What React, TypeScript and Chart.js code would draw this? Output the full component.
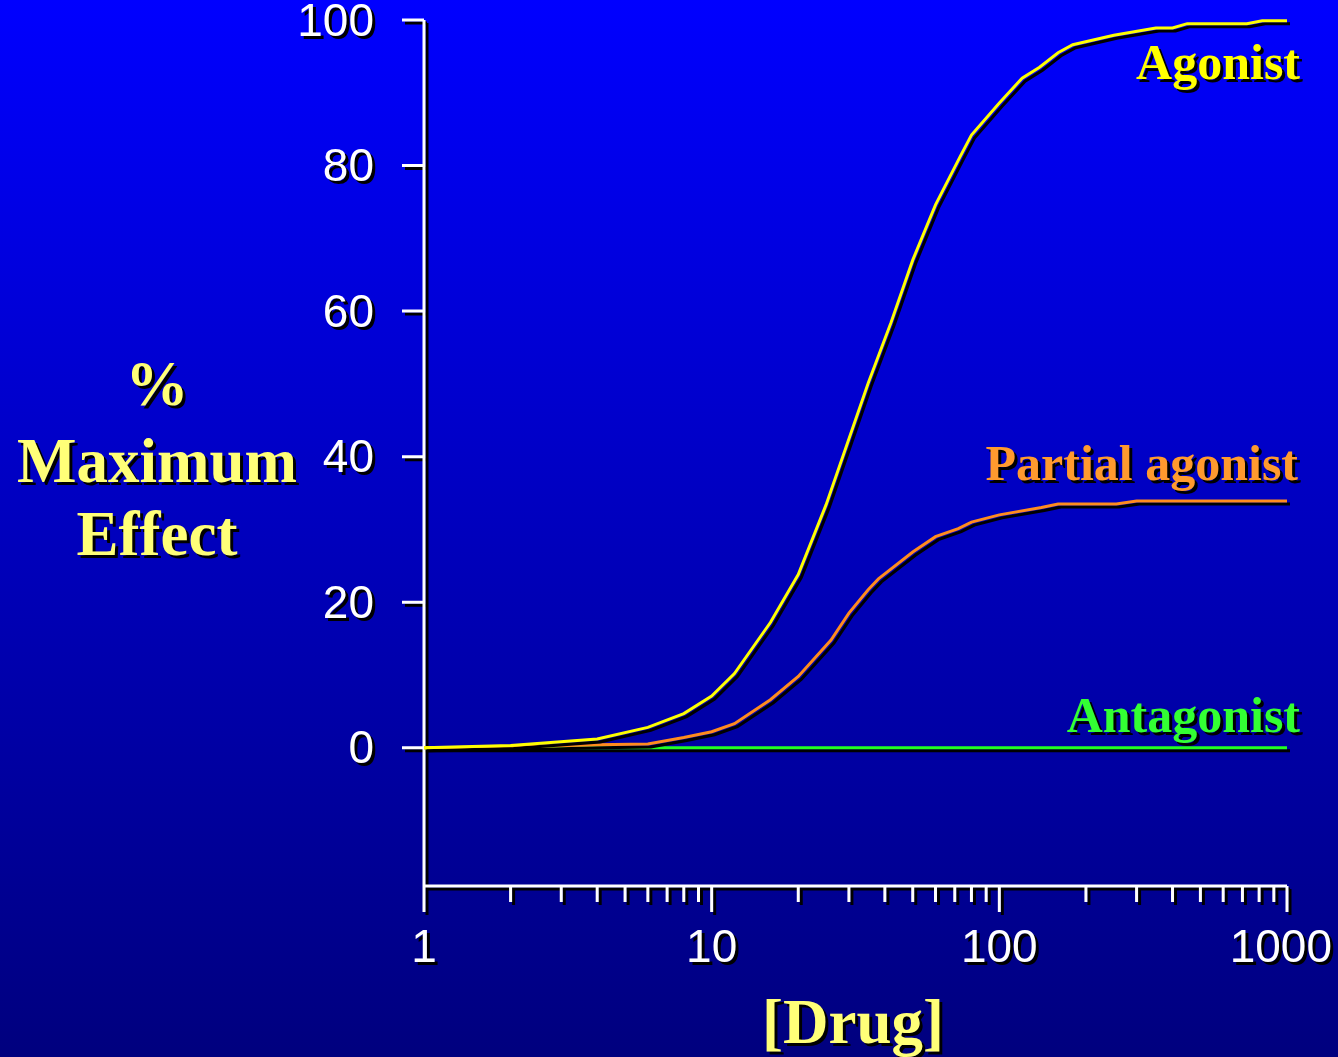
import React, { useEffect, useRef } from "react";
import { Chart, registerables } from "chart.js";

Chart.register(...registerables);

// ---- data ----
const agonistX = [1, 2, 4, 6, 8, 10, 12, 16, 20, 25, 35, 42, 50, 60, 73, 80, 100, 120, 138, 160, 180, 250, 350, 400, 450, 725, 820, 1000];
const agonistY = [0, 0.3, 1.2, 2.8, 4.7, 7.1, 10.2, 17.2, 23.8, 33.4, 50.1, 58.4, 67.0, 74.6, 81.2, 84.2, 88.6, 92.0, 93.5, 95.5, 96.6, 97.9, 98.9, 98.9, 99.5, 99.5, 99.9, 99.9];

const partialX = [1, 2, 4, 6, 8, 10, 12, 16, 20, 26, 30, 35, 38, 50, 60, 72, 80, 100, 140, 160, 255, 300, 1000];
const partialY = [0, 0.1, 0.4, 0.5, 1.4, 2.2, 3.3, 6.6, 9.8, 14.8, 18.5, 21.7, 23.2, 26.9, 29.0, 30.1, 31.0, 32.0, 33.0, 33.5, 33.5, 33.9, 33.9];

const antagonistX = [1, 10, 100, 1000];
const antagonistY = [0, 0, 0, 0];

const yTickValues = [0, 20, 40, 60, 80, 100];
const yTickLabels = ["0", "20", "40", "60", "80", "100"];
const xTickValues = [1, 10, 100, 1000];
const xTickLabels = ["1", "10", "100", "1000"];

const X_MIN = 1;
const X_MAX = 1000;
const Y_MIN = -19;
const Y_MAX = 100;

const W = 1338;
const H = 1057;

const SERIF = '"Liberation Serif", "Times New Roman", serif';
const SANS = '"Liberation Sans", Arial, sans-serif';

function setShadow(ctx: CanvasRenderingContext2D, off = 3) {
  ctx.shadowColor = "#000000";
  ctx.shadowOffsetX = off;
  ctx.shadowOffsetY = off;
  ctx.shadowBlur = 0;
}

const lineShadowPlugin = {
  id: "lineShadow",
  beforeDatasetDraw(chart: any) {
    const ctx = chart.ctx;
    ctx.save();
    setShadow(ctx, 3);
  },
  afterDatasetDraw(chart: any) {
    chart.ctx.restore();
  },
};

const axesPlugin = {
  id: "customAxes",
  beforeDatasetsDraw(chart: any) {
    const ctx: CanvasRenderingContext2D = chart.ctx;
    const xs = chart.scales.x;
    const ys = chart.scales.y;
    const x0 = xs.getPixelForValue(X_MIN);
    const x1 = xs.getPixelForValue(X_MAX);
    const yTop = ys.getPixelForValue(Y_MAX);
    const yBot = ys.getPixelForValue(Y_MIN);

    ctx.save();
    setShadow(ctx, 3);
    ctx.strokeStyle = "#ffffff";
    ctx.lineWidth = 3;
    ctx.lineCap = "butt";
    ctx.lineJoin = "miter";
    ctx.beginPath();
    // y axis
    ctx.moveTo(x0, yTop);
    ctx.lineTo(x0, yBot);
    // x axis
    ctx.lineTo(x1, yBot);
    // y ticks
    for (const v of yTickValues) {
      const py = ys.getPixelForValue(v);
      ctx.moveTo(x0 - 22, py);
      ctx.lineTo(x0, py);
    }
    // x ticks (major + minor, log)
    for (let d = 1; d <= X_MAX; d *= 10) {
      const px = xs.getPixelForValue(d);
      ctx.moveTo(px, yBot);
      ctx.lineTo(px, yBot + 26);
      if (d < X_MAX) {
        for (let k = 2; k <= 9; k++) {
          const pm = xs.getPixelForValue(k * d);
          ctx.moveTo(pm, yBot);
          ctx.lineTo(pm, yBot + 16);
        }
      }
    }
    ctx.stroke();

    // tick labels
    ctx.fillStyle = "#ffffff";
    ctx.font = `46px ${SANS}`;
    ctx.textAlign = "right";
    ctx.textBaseline = "middle";
    yTickValues.forEach((v, i) => {
      const py = ys.getPixelForValue(v);
      ctx.fillText(yTickLabels[i], x0 - 50, py + 3);
    });
    ctx.textAlign = "center";
    ctx.textBaseline = "alphabetic";
    xTickValues.forEach((v, i) => {
      let px = xs.getPixelForValue(v);
      const w = ctx.measureText(xTickLabels[i]).width;
      px = Math.min(px, W - 6 - w / 2);
      ctx.fillText(xTickLabels[i], px, yBot + 76);
    });
    ctx.restore();
  },
  afterDraw(chart: any) {
    const ctx: CanvasRenderingContext2D = chart.ctx;
    const xs = chart.scales.x;
    const ys = chart.scales.y;
    const right = xs.getPixelForValue(X_MAX) + 13;
    ctx.save();
    setShadow(ctx, 3);

    // series labels
    ctx.font = `bold 50px ${SERIF}`;
    ctx.textAlign = "right";
    ctx.textBaseline = "alphabetic";
    ctx.fillStyle = "#ffff00";
    ctx.fillText("Agonist", right, ys.getPixelForValue(agonistY[agonistY.length - 1]) + 58);
    ctx.fillStyle = "#ff9a2e";
    ctx.fillText("Partial agonist", right - 2, ys.getPixelForValue(partialY[partialY.length - 1]) - 21);
    ctx.fillStyle = "#33ff33";
    ctx.fillText("Antagonist", right, ys.getPixelForValue(antagonistY[antagonistY.length - 1]) - 16);

    // axis titles
    ctx.fillStyle = "#ffff78";
    ctx.font = `bold 63px ${SERIF}`;
    ctx.textAlign = "center";
    ctx.fillText("%", 157, 405);
    ctx.fillText("Maximum", 157, 482);
    ctx.fillText("Effect", 157, 555);
    ctx.fillText("[Drug]", 853, 1043);
    ctx.restore();
  },
};

function toPoints(xs: number[], ys: number[]) {
  return xs.map((x, i) => ({ x, y: ys[i] }));
}

export default function App() {
  const canvasRef = useRef<HTMLCanvasElement | null>(null);

  useEffect(() => {
    document.body.style.margin = "0";
    const canvas = canvasRef.current;
    if (!canvas) return;
    const chart = new Chart(canvas, {
      type: "line",
      data: {
        datasets: [
          {
            label: "Agonist",
            data: toPoints(agonistX, agonistY),
            borderColor: "#ffff00",
            borderWidth: 3,
            pointRadius: 0,
            tension: 0,
            fill: false,
            clip: false as any,
          },
          {
            label: "Partial agonist",
            data: toPoints(partialX, partialY),
            borderColor: "#ff8c1e",
            borderWidth: 3,
            pointRadius: 0,
            tension: 0,
            fill: false,
            clip: false as any,
          },
          {
            label: "Antagonist",
            data: toPoints(antagonistX, antagonistY),
            borderColor: "#22ff22",
            borderWidth: 3,
            pointRadius: 0,
            tension: 0,
            fill: false,
            clip: false as any,
          },
        ],
      },
      options: {
        animation: false,
        responsive: false,
        devicePixelRatio: 1,
        layout: {
          padding: { left: 424, top: 20, right: W - 1287, bottom: H - 886 },
        },
        plugins: {
          legend: { display: false },
          tooltip: { enabled: false },
          title: { display: false },
        },
        scales: {
          x: { type: "logarithmic", min: X_MIN, max: X_MAX, display: false },
          y: { type: "linear", min: Y_MIN, max: Y_MAX, display: false },
        },
        events: [],
      },
      plugins: [lineShadowPlugin, axesPlugin],
    });
    return () => chart.destroy();
  }, []);

  return (
    <div
      style={{
        width: W,
        height: H,
        background: "linear-gradient(to bottom, #0000ff 0%, #0000c4 45%, #00007e 100%)",
        overflow: "hidden",
      }}
    >
      <canvas ref={canvasRef} width={W} height={H} style={{ width: W, height: H, display: "block" }} />
    </div>
  );
}
